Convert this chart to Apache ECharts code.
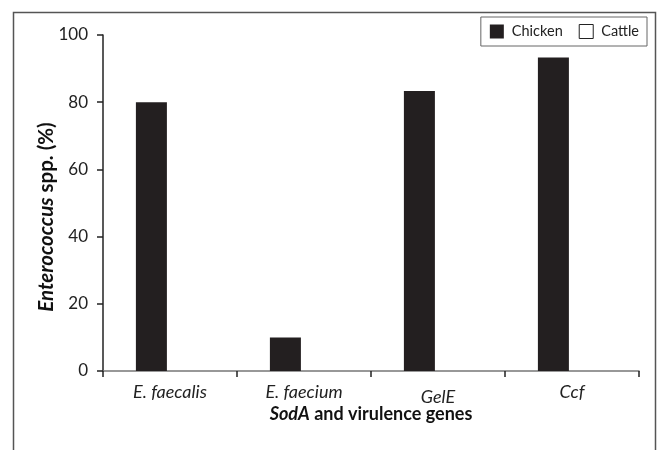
<!DOCTYPE html>
<html><head><meta charset="utf-8">
<script src="https://cdn.jsdelivr.net/npm/echarts@6/dist/echarts.min.js"></script>
<style>html,body{margin:0;padding:0;background:#fff}#c{width:661px;height:450px}</style>
</head><body><div id="c"></div>
<script>
const categories = ['E. faecalis', 'E. faecium', 'GelE', 'Ccf'];
const chicken = [80, 10, 83.3, 93.3];
const cattle = [0, 0, 0, 0];
const yTicks = [0, 20, 40, 60, 80, 100];

const FONT = 'Lato, "Open Sans", sans-serif';
const chart = echarts.init(document.getElementById('c'));
chart.setOption({
  animation: false,
  textStyle: { fontFamily: FONT },
  graphic: [{
    type: 'rect', left: 11, top: 10,
    shape: { x: 0, y: 0, width: 642, height: 460 },
    style: { fill: 'none', stroke: '#555', lineWidth: 1.5 }
  }],
  legend: {
    right: 14, top: 17,
    data: [
      { name: 'Chicken', itemStyle: { color: '#231f20' } },
      { name: 'Cattle', itemStyle: { color: '#fff', borderColor: '#222', borderWidth: 1 } }
    ],
    icon: 'rect', itemWidth: 14, itemHeight: 14, itemGap: 16,
    borderColor: '#666', borderWidth: 1, padding: [7, 8, 7, 9],
    textStyle: { fontFamily: FONT, fontSize: 14.5, color: '#222', padding: [0, 0, 0, 3] }
  },
  grid: { left: 103, right: 22, top: 35, bottom: 79 },
  xAxis: {
    type: 'category', data: categories,
    axisLine: { lineStyle: { color: '#777', width: 1.5 } },
    axisTick: { show: true, length: 6, alignWithLabel: false, lineStyle: { color: '#222', width: 1.5 } },
    axisLabel: {
      margin: 12, color: '#222', fontSize: 18, fontStyle: 'italic', fontFamily: FONT,
      formatter: function (v) { return v === 'GelE' ? '{g|' + v + '}' : v; },
      rich: { g: { fontStyle: 'italic', fontSize: 18, fontFamily: FONT, color: '#222', padding: [5, 0, 0, 0] } }
    },
    name: '{b|SodA}{r| and virulence genes}',
    nameLocation: 'middle', nameGap: 34, nameMoveOverlap: false,
    nameTextStyle: {
      rich: {
        b: { fontWeight: 'bold', fontStyle: 'italic', fontSize: 18, color: '#111', fontFamily: FONT },
        r: { fontWeight: 'bold', fontSize: 18, color: '#111', fontFamily: FONT }
      }
    }
  },
  yAxis: {
    type: 'value', min: 0, max: 100, interval: 20,
    axisLine: { show: true, lineStyle: { color: '#222', width: 1.5 } },
    axisTick: { show: true, length: 6, lineStyle: { color: '#222', width: 1.5 } },
    splitLine: { show: false },
    axisLabel: {
      margin: 15, color: '#222', fontSize: 17, fontFamily: FONT,
      formatter: function (v) { return yTicks.indexOf(v) >= 0 ? String(v) : ''; }
    },
    name: '{i|Enterococcus}{r| spp. (%)}',
    nameLocation: 'middle', nameGap: 46, nameRotate: 90, nameMoveOverlap: false,
    nameTextStyle: {
      padding: [0, 28, 0, 0],
      rich: {
        i: { fontWeight: 'bold', fontStyle: 'italic', fontSize: 20.5, color: '#111', fontFamily: FONT },
        r: { fontWeight: 'bold', fontSize: 20.5, color: '#111', fontFamily: FONT }
      }
    }
  },
  series: [
    { name: 'Chicken', type: 'bar', data: chicken, barWidth: 31, barGap: '20%',
      itemStyle: { color: '#231f20' } },
    { name: 'Cattle', type: 'bar', data: cattle, barWidth: 31,
      itemStyle: { color: '#ffffff', borderWidth: 0 } }
  ]
});
</script></body></html>
